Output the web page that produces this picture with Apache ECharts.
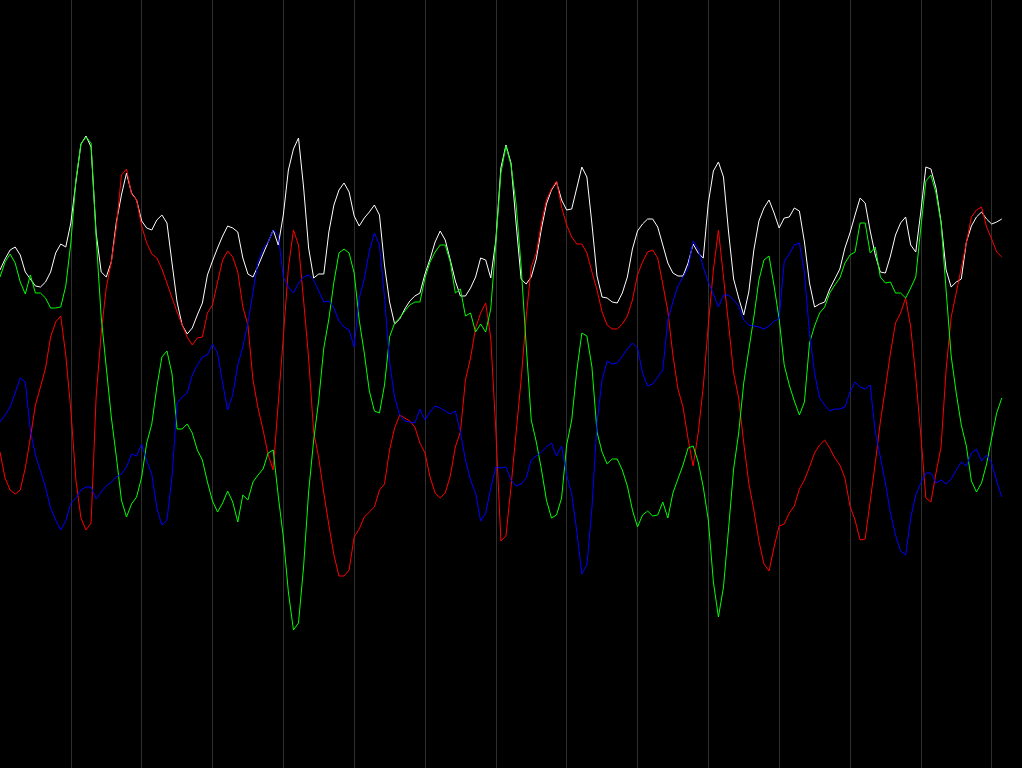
<!DOCTYPE html>
<html>
<head>
<meta charset="utf-8">
<title>Signal channels</title>
<script src="https://cdn.jsdelivr.net/npm/echarts@6/dist/echarts.min.js"></script>
<style>
  html, body { margin: 0; padding: 0; background: #000; }
  #chart { width: 1022px; height: 768px; }
</style>
</head>
<body>
<div id="chart"></div>
<script>
// channel levels, one sample per step
const white = [
  114, 125, 134, 137, 129, 112, 105, 98, 97, 102,
  112, 131, 140, 137, 161, 202, 240, 248, 237, 151,
  112, 107, 122, 162, 189, 211, 191, 184, 163, 156,
  154, 164, 169, 161, 121, 82, 59, 50, 56, 69,
  81, 109, 123, 136, 148, 158, 156, 152, 126, 110,
  107, 118, 130, 142, 154, 139, 169, 214, 235, 246,
  197, 136, 106, 110, 110, 152, 179, 194, 201, 192,
  168, 158, 166, 172, 179, 169, 119, 82, 60, 65,
  75, 83, 88, 91, 110, 125, 142, 153, 144, 124,
  103, 88, 88, 96, 107, 126, 124, 106, 144, 216,
  239, 221, 161, 105, 100, 107, 125, 155, 180, 194,
  202, 184, 174, 175, 196, 217, 207, 160, 108, 87,
  86, 82, 81, 91, 107, 135, 153, 160, 165, 165,
  157, 139, 121, 111, 108, 108, 121, 140, 131, 126,
  181, 213, 222, 207, 152, 105, 86, 69, 92, 134,
  163, 176, 184, 171, 156, 166, 167, 176, 173, 142,
  101, 77, 80, 82, 95, 105, 115, 136, 151, 169,
  186, 181, 153, 129, 112, 111, 128, 149, 161, 167,
  139, 132, 172, 217, 215, 196, 162, 114, 97, 102,
  105, 142, 158, 167, 172, 165, 160, 162, 165
]

const red = [
  -68, -94, -106, -110, -106, -84, -54, -21, -3, 16,
  47, 62, 68, 29, -26, -96, -134, -146, -139, -13,
  51, 96, 122, 157, 209, 215, 190, 184, 158, 141,
  130, 126, 115, 101, 86, 72, 59, 47, 39, 46,
  47, 71, 79, 102, 124, 133, 127, 112, 77, 59,
  4, -24, -46, -71, -86, -19, 47, 116, 154, 139,
  84, 26, -48, -74, -109, -141, -171, -192, -192, -186,
  -153, -145, -133, -128, -123, -106, -100, -66, -44, -31,
  -34, -37, -43, -59, -69, -93, -109, -114, -109, -92,
  -63, -48, 4, 26, 56, 71, 81, 46, -46, -157,
  -152, -103, -49, 4, 67, 117, 131, 161, 184, 195,
  203, 177, 159, 147, 140, 140, 131, 112, 94, 72,
  59, 55, 55, 60, 68, 84, 109, 122, 132, 134,
  126, 100, 73, 29, -5, -23, -55, -82, -49, -3,
  59, 114, 154, 107, 60, 11, -14, -59, -99, -126,
  -157, -180, -187, -163, -142, -140, -129, -122, -105, -96,
  -83, -69, -61, -56, -64, -74, -81, -94, -122, -136,
  -156, -155, -117, -79, -38, -4, 31, 61, 71, 86,
  57, 7, -51, -114, -118, -89, -63, 14, 67, 91,
  116, 141, 167, 174, 177, 157, 145, 132, 127
]

const green = [
  107, 122, 130, 121, 102, 90, 109, 91, 91, 86,
  76, 76, 77, 98, 141, 204, 240, 247, 241, 147,
  67, 17, -33, -73, -116, -133, -120, -113, -93, -59,
  -40, -3, 27, 33, 10, -45, -45, -40, -49, -66,
  -76, -98, -117, -128, -119, -107, -118, -138, -111, -116,
  -98, -91, -85, -69, -66, -112, -153, -208, -246, -239,
  -183, -108, -56, -16, 36, 65, 102, 131, 135, 131,
  111, 64, 31, -7, -27, -29, -1, 47, 61, 66,
  73, 79, 82, 82, 106, 122, 132, 139, 139, 122,
  91, 95, 68, 71, 52, 60, 52, 75, 141, 211,
  238, 219, 180, 118, 39, -36, -58, -85, -116, -134,
  -131, -114, -61, -36, 13, 51, 48, 17, -48, -68,
  -80, -75, -75, -86, -102, -126, -143, -131, -127, -132,
  -131, -118, -134, -109, -95, -81, -64, -62, -78, -103,
  -136, -198, -233, -203, -145, -85, -49, 1, 34, 67,
  104, 124, 128, 98, 65, 19, -1, -17, -31, -18,
  41, 58, 71, 77, 91, 99, 106, 121, 129, 132,
  161, 161, 131, 137, 107, 101, 102, 91, 91, 86,
  96, 107, 156, 203, 209, 191, 161, 94, 28, -9,
  -41, -62, -97, -108, -99, -80, -54, -29, -14
]

const blue = [
  -38, -31, -23, -9, 6, 2, -46, -71, -87, -103,
  -124, -136, -146, -137, -119, -114, -106, -103, -103, -115,
  -108, -102, -98, -93, -90, -83, -70, -72, -60, -77,
  -90, -124, -141, -136, -93, -19, -13, -9, 9, 19,
  27, 29, 40, 31, 1, -26, -11, 19, 37, 61,
  92, 122, 135, 142, 154, 149, 107, 97, 91, 101,
  107, 109, 104, 93, 82, 83, 76, 63, 57, 54,
  37, 86, 105, 133, 151, 139, 87, 22, -13, -31,
  -37, -38, -39, -25, -36, -28, -22, -24, -27, -30,
  -27, -48, -76, -96, -109, -137, -129, -104, -83, -84,
  -83, -96, -102, -100, -94, -76, -72, -68, -63, -59,
  -72, -62, -91, -110, -147, -190, -181, -124, -39, 4,
  23, 20, 21, 28, 35, 41, 36, 11, -2, 0,
  7, 14, 64, 82, 98, 107, 116, 143, 135, 117,
  102, 90, 77, 89, 89, 84, 78, 64, 59, 58,
  57, 55, 58, 63, 65, 122, 130, 139, 141, 111,
  51, 11, -14, -21, -27, -25, -25, -23, -8, 2,
  -3, -5, -1, -48, -73, -99, -129, -151, -167, -171,
  -134, -111, -99, -89, -89, -99, -96, -100, -95, -86,
  -78, -82, -69, -65, -77, -71, -79, -97, -113
]

const xMax = 202
const gridStep = 14

const toPoints = (values) => values.map((v, i) => [i, v])

const makeLine = (name, color, values) => ({
  name: name,
  type: 'line',
  data: toPoints(values),
  symbol: 'none',
  smooth: false,
  lineStyle: { color: color, width: 1 },
  itemStyle: { color: color },
  silent: true,
})

const chart = echarts.init(document.getElementById('chart'), null, { renderer: 'canvas' })

chart.setOption({
  backgroundColor: '#000',
  animation: false,
  grid: { left: 0, right: 0, top: 0, bottom: 0, containLabel: false },
  xAxis: {
    type: 'value',
    min: 0,
    max: xMax,
    interval: gridStep,
    axisLine: { show: false },
    axisTick: { show: false },
    axisLabel: { show: false },
    splitLine: {
      show: true,
      showMinLine: false,
      showMaxLine: false,
      lineStyle: { color: '#2e2e2e', width: 1 },
    },
  },
  yAxis: {
    type: 'value',
    min: -384,
    max: 384,
    axisLine: { show: false },
    axisTick: { show: false },
    axisLabel: { show: false },
    splitLine: { show: false },
  },
  series: [
    makeLine('white', '#ffffff', white),
    makeLine('red', '#ff0000', red),
    makeLine('green', '#00ff00', green),
    makeLine('blue', '#0000ff', blue),
  ],
})
</script>
</body>
</html>
